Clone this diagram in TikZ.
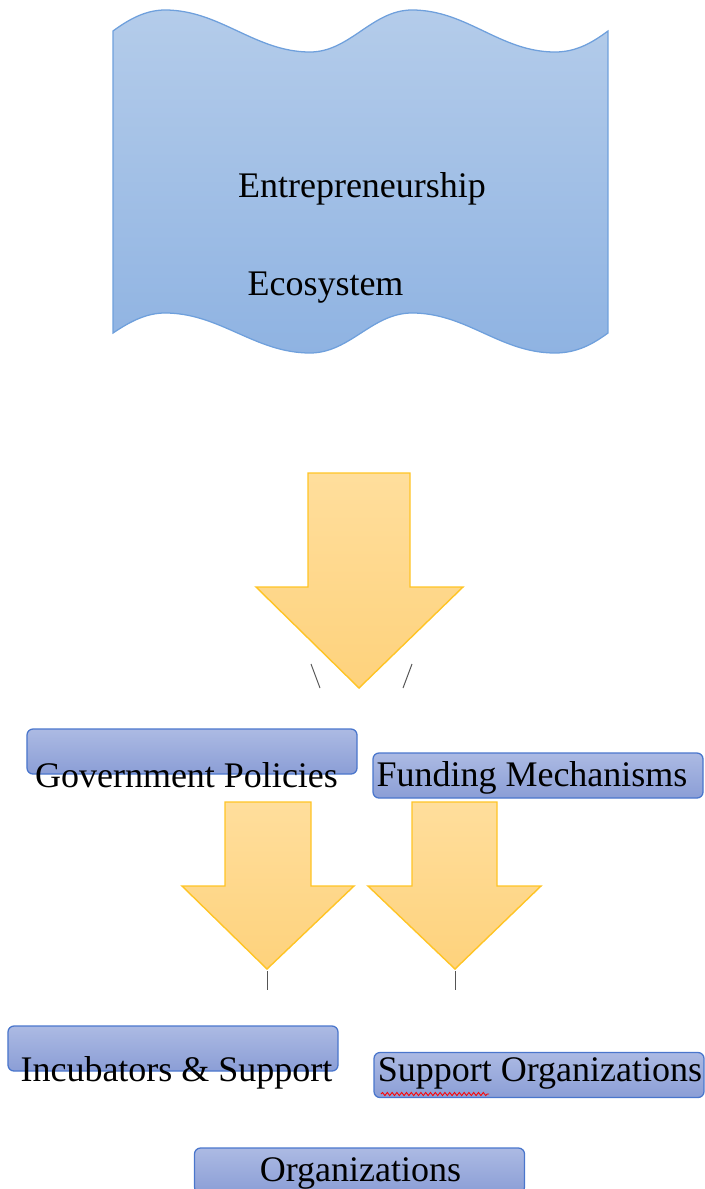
\documentclass[tikz,border=0pt]{standalone}
\usepackage{fontspec}
\setmainfont{Liberation Serif}
\usetikzlibrary{decorations.pathmorphing}

\definecolor{waveTop}{HTML}{B4CCEA}
\definecolor{waveBottom}{HTML}{8FB3E2}
\definecolor{waveLine}{HTML}{6FA0DC}
\definecolor{boxTop}{HTML}{ACBAE3}
\definecolor{boxBottom}{HTML}{8B9ED6}
\definecolor{boxLine}{HTML}{4A76CC}
\definecolor{arrowTop}{HTML}{FFDE9C}
\definecolor{arrowBottom}{HTML}{FED27C}
\definecolor{arrowLine}{HTML}{FFC425}
\definecolor{stubGray}{HTML}{555555}

\tikzset{
  box/.style={draw=boxLine, line width=0.9pt, rounded corners=1.5mm,
    top color=boxTop, bottom color=boxBottom,
    minimum width=82.5mm, minimum height=11.25mm, inner sep=0pt},
  boxtext/.style={font=\fontsize{25.6}{30}\selectfont, anchor=base, inner sep=0pt},
  blockarrow/.style={draw=arrowLine, line width=1pt, line join=miter,
    top color=arrowTop, bottom color=arrowBottom},
  stub/.style={draw=stubGray, line width=0.7pt}
}

\begin{document}
\begin{tikzpicture}[x=0.25mm, y=-0.25mm]

    % Page frame
    \useasboundingbox (0,0) rectangle (704,1189);

    % Wavy banner at the top
    \shade[top color=waveTop, bottom color=waveBottom, draw=waveLine, line width=0.9pt]
      (113,31) .. controls (128,20) and (145,10) .. (165,10)
      .. controls (220,10) and (255,52) .. (310,52)
      .. controls (350,52) and (372,10) .. (412,10)
      .. controls (467,10) and (500,52) .. (555,52)
      .. controls (577,52) and (593,42) .. (608,31)
      -- (608,333)
      .. controls (593,344) and (577,353) .. (555,353)
      .. controls (500,353) and (467,313) .. (412,313)
      .. controls (372,313) and (350,353) .. (310,353)
      .. controls (255,353) and (220,313) .. (165,313)
      .. controls (145,313) and (128,323) .. (113,333)
      -- cycle;

    % Banner text
    \node[boxtext] (entre) at (362,197) {Entrepreneurship};
    \node[boxtext] (eco) at (325.5,295) {Ecosystem};

    % Big arrow under the banner
    \draw[blockarrow] (308,473) -- (410,473) -- (410,587) -- (463,587)
      -- (359,688) -- (256,587) -- (308,587) -- cycle;

    % Short strokes beside the arrow tip
    \coordinate (slashLa) at (311,664);
    \coordinate (slashLb) at (320,688);
    \coordinate (slashRa) at (412,664);
    \coordinate (slashRb) at (403,688);
    \draw[stub] (slashLa) -- (slashLb);
    \draw[stub] (slashRa) -- (slashRb);

    % Second row boxes
    \node[box] (govbox) at (192,751.5) {};
    \node[box] (fundbox) at (538,775.5) {};
    \node[boxtext] (gov) at (186.5,787) {Government Policies};
    \node[boxtext] (fund) at (532,786) {Funding Mechanisms};

    % Two arrows under the second row
    \draw[blockarrow] (225,802) -- (311,802) -- (311,886) -- (354,886)
      -- (267,969) -- (182,886) -- (225,886) -- cycle;
    \draw[blockarrow] (412,802) -- (497,802) -- (497,886) -- (541,886)
      -- (455,969) -- (368,886) -- (412,886) -- cycle;

    % Stubs under the arrow tips
    \coordinate (tipL) at (267,971);
    \coordinate (endL) at (267,990);
    \coordinate (tipR) at (455,971);
    \coordinate (endR) at (455,990);
    \draw[stub] (tipL) -- (endL);
    \draw[stub] (tipR) -- (endR);

    % Third row boxes
    \node[box] (incbox) at (173,1048.5) {};
    \node[box] (suppbox) at (539,1075) {};
    \node[boxtext] (inc) at (176.5,1081) {Incubators \& Support};
    \node[boxtext] (supp) at (540,1081) {Support Organizations};

    % Red wavy underline under the first word
    \draw[red, line width=0.6pt, decorate,
      decoration={snake, amplitude=0.4mm, segment length=1.2mm}]
      (381,1094) -- (489,1094);

    % Bottom box
    \node[box] (orgbox) at (359.5,1170.5) {};
    \node[boxtext] (org) at (360.5,1181) {Organizations};

\end{tikzpicture}
\end{document}
